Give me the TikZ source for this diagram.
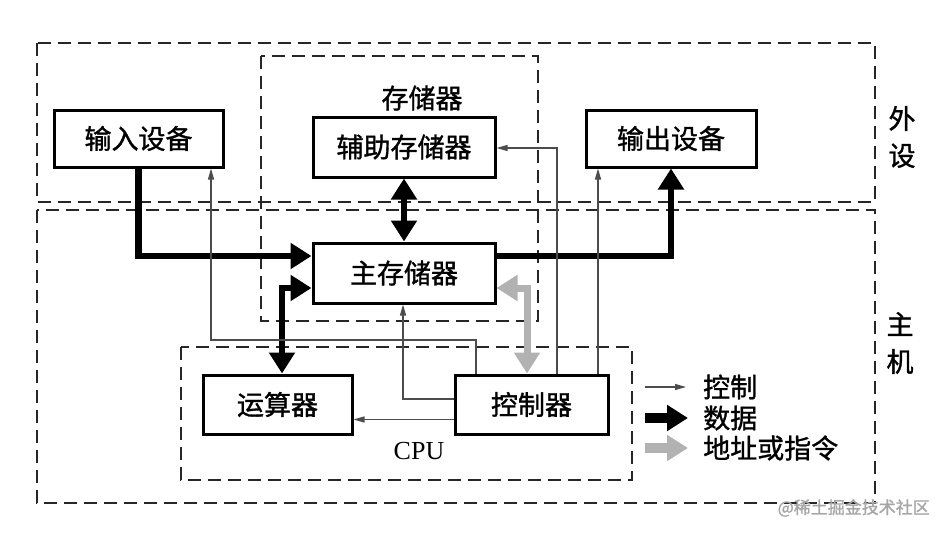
\documentclass[tikz,border=0pt]{standalone}
\usepackage{fontspec}
\setmainfont{Liberation Serif}
\newfontfamily\cjk{Noto Sans CJK SC}[FakeBold=1.2]
\usepackage{tikz}
\usetikzlibrary{arrows.meta,calc,positioning}

\begin{document}
\begin{tikzpicture}[x=1pt,y=-1pt,
    block/.style={rectangle,draw,line width=3pt,fill=white,inner sep=0pt,
      font=\cjk\fontsize{27}{27}\selectfont},
    region/.style={draw=black!85,line width=2.8pt,dash pattern=on 13pt off 7pt},
    tag/.style={inner sep=0pt,align=center,font=\cjk\fontsize{27}{37}\selectfont},
    control/.style={>={Triangle[length=11pt,width=6pt]},->,line width=1.3pt,draw=black!70},
    data/.style={>={Triangle[length=21pt,width=25pt]},line width=6.5pt},
    address/.style={>={Triangle[length=21pt,width=25pt]},line width=7pt,draw=black!30}]
    \useasboundingbox (0,0) rectangle (948,535);

    % Dashed regions first, boxes and arrows go on top
    \draw[region] (37,43) rectangle (875,202);
    \draw[region] (37,210) rectangle (875,503);
    \draw[region,line width=2.4pt] (261,56) rectangle (538,321);
    \draw[region,line width=2.4pt] (181,347) rectangle (632,480);

    % Functional units
    \node (input_block) [block,minimum width=169pt,minimum height=57pt] at (138.5,138.5) {输入设备};
    \node (aux_mem) [block,minimum width=182pt,minimum height=60pt] at (404,147) {辅助存储器};
    \node (output_block) [block,minimum width=170pt,minimum height=57pt] at (671,138.5) {输出设备};
    \node (main_mem) [block,minimum width=182pt,minimum height=60pt] at (404,273) {主存储器};
    \node (alu_block) [block,minimum width=149pt,minimum height=59pt] at (277.5,404.5) {运算器};
    \node (ctrl_block) [block,minimum width=153pt,minimum height=59pt] at (531.5,404.5) {控制器};

    % Region captions
    \node (mem_tag) [tag] at (422,98) {存储器};
    \node (cpu_tag) [inner sep=0pt,font=\fontsize{26}{26}\selectfont] at (419,451) {CPU};
    \node (periph_tag) [tag] at (902,137) {外\\设};
    \node (host_tag) [tag] at (900,343) {主\\机};

    % Data paths
    \draw[data,->] (input_block.south) |- ([yshift=17pt]main_mem.west);
    \draw[data,->] ([yshift=17pt]main_mem.east) -| (output_block.south);
    \draw[data,<->] (aux_mem.south) -- (main_mem.north);
    \draw[data,<->] ([yshift=-15pt]main_mem.west) -| ([xshift=4.5pt]alu_block.north);
    \draw[address,<->] ([yshift=-15pt]main_mem.east) -| ([xshift=-4.5pt]ctrl_block.north);

    % Control signals
    \coordinate (in_route1) at (476,340);
    \coordinate (in_route2) at (211,340);
    \coordinate (mm_route) at (403,399);
    \coordinate (aux_route) at (557,148);
    \coordinate (out_route) at (598,300);
    \draw[control] (in_route1 |- ctrl_block.north) -- (in_route1) -- (in_route2) -- (in_route2 |- input_block.south);
    \draw[control] (mm_route -| ctrl_block.west) -- (mm_route) -- (mm_route |- main_mem.south);
    \draw[control] ([yshift=-15pt]ctrl_block.west) -- ([yshift=-15pt]ctrl_block.west -| alu_block.east);
    \draw[control] (aux_route |- ctrl_block.north) -- (aux_route) -- (aux_route -| aux_mem.east);
    \draw[control] (out_route |- ctrl_block.north) -- (out_route |- output_block.south);

    % Legend
    \node (leg_ctrl) [tag,anchor=west] at (703,387) {控制};
    \node (leg_data) [tag,anchor=west] at (703,418) {数据};
    \node (leg_addr) [tag,anchor=west] at (703,448) {地址或指令};
    \draw[control] ([xshift=-58pt]leg_ctrl.west) -- ([xshift=-17pt]leg_ctrl.west);
    \draw[data,->,line width=10pt] ([xshift=-58pt]leg_data.west) -- ([xshift=-15pt]leg_data.west);
    \draw[address,->,line width=10pt] ([xshift=-58pt]leg_addr.west) -- ([xshift=-15pt]leg_addr.west);

    \node (mark) [anchor=east,inner sep=0pt,text=black!35,font=\cjk\fontsize{17}{17}\selectfont] at (930,508) {@稀土掘金技术社区};
\end{tikzpicture}
\end{document}
